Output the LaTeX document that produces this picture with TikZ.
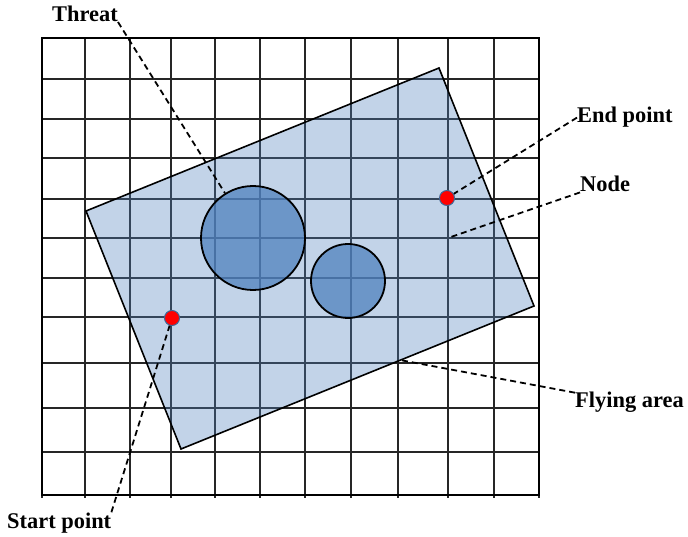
\documentclass[tikz,border=0pt]{standalone}
\usepackage{fontspec}
\setmainfont{Liberation Serif}
\usepackage{xcolor}
\usepackage{tikz}
\usetikzlibrary{arrows.meta,positioning}
\definecolor{azul}{RGB}{79,129,189}
\tikzset{
    grade/.style={line width=1.7pt, draw=black!85},
    moldura/.style={line width=2.3pt},
    regiao/.style={draw, line width=1.6pt, fill=azul, fill opacity=0.35},
    ameaca/.style={
        circle,
        draw,
        line width=1.8pt,
        fill=azul,
        fill opacity=0.75,
        inner sep=0pt
    },
    ponto/.style={circle, fill=red, draw=azul!80!black, line width=1pt, minimum size=15bp, inner sep=0pt},
    rotulo/.style={inner sep=0pt, anchor=base west, font=\fontsize{22.5}{27}\selectfont\bfseries},
    guia/.style={line width=1.8pt, dash pattern=on 6bp off 4bp}
}

\begin{document}
\begin{tikzpicture}[x=1bp, y=-1bp]
    \useasboundingbox (0,0) rectangle (688,537);

    % grade
    \foreach \x in {42,85,130,171,215,260,305,351,398,448,494,539}
        \draw[grade] (\x,38) -- (\x,498);
    \foreach \y in {38,79,119,158,199,238,278,317,363,408,452,495}
        \draw[grade] (42,\y) -- (539,\y);
    \draw[moldura] (42,38) rectangle (539,495);

    % area de voo
    \draw[regiao] (86,211) -- (439,68) -- (534,306) -- (181,449) -- cycle;

    \node[ameaca, minimum size=104bp] (ameaca1) at (253,238) {};
    \node[ameaca, minimum size=74bp] (ameaca2) at (348,281) {};

    \node[ponto] (pInicio) at (172,318) {};
    \node[ponto] (pFim) at (447,198) {};
    \coordinate (no) at (448,238);
    \coordinate (bordaArea) at (400,360);

    % rotulos
    \node[rotulo] (lblAmeaca) at (52,22) {Threat};
    \node[rotulo] (lblFim) at (577,123) {End point};
    \node[rotulo] (lblNo) at (580,192) {Node};
    \node[rotulo] (lblArea) at (575,407) {Flying area};
    \node[rotulo] (lblInicio) at (7,528) {Start point};

    \draw[guia] (lblAmeaca.base east) -- (ameaca1);
    \draw[guia] (lblFim.west) -- (pFim);
    \draw[guia] (lblNo.south west) -- (no);
    \draw[guia] ([yshift=9bp]lblArea.west) -- (bordaArea);
    \draw[guia] (lblInicio.north east) -- (pInicio);
\end{tikzpicture}
\end{document}
